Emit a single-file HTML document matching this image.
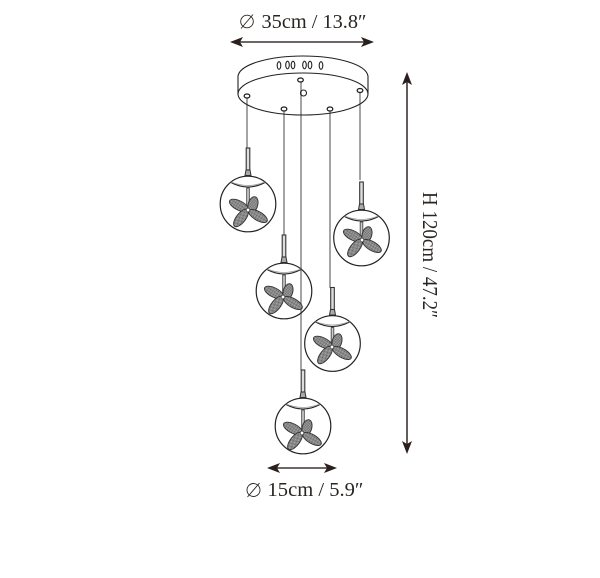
<!DOCTYPE html>
<html><head><meta charset="utf-8"><style>
html,body{margin:0;padding:0;background:#fff}
svg{display:block}
text{font-family:"Liberation Serif",serif;fill:#2a2522}
</style></head><body>
<svg width="600" height="578" viewBox="0 0 600 578" xmlns="http://www.w3.org/2000/svg">
<defs>
<pattern id="h" width="2" height="2" patternUnits="userSpaceOnUse"><rect width="2" height="2" fill="#b0b0b0"/><rect width="1" height="1" fill="#606060"/><rect x="1" y="1" width="1" height="1" fill="#606060"/></pattern>
<g id="blades" stroke="#333" stroke-width=".9" fill="url(#h)">
<ellipse cx="-9" cy="-4.5" rx="10.500" ry="4.600" transform="rotate(27 -9 -4.500)"/>
<ellipse cx="5" cy="-5.500" rx="8" ry="4.800" transform="rotate(-75 5 -5.500)"/>
<ellipse cx="-7" cy="8" rx="10.500" ry="4.600" transform="rotate(-52 -7 8)"/>
<ellipse cx="10" cy="6" rx="10.500" ry="4.400" transform="rotate(30 10 6)"/>
<circle r="1.800" fill="#fff" stroke-width=".7" cx="0" cy="0"/>
</g>
<g id="lamp">
<rect x="-1.800" y="-56" width="3.600" height="22" fill="#ddd" stroke="#333" stroke-width="1.100"/>
<path d="M-2-34H2L3-28.500H-3Z" fill="#aaa" stroke="#333" stroke-width="1"/>
<circle cx="0" cy="0" r="27.800" fill="none" stroke="#222" stroke-width="1.200"/>
<path d="M-17-21.500Q0-12.500 17-21.500" fill="none" stroke="#222" stroke-width="1.100"/>
<path d="M-17-22Q0-15 17-22" fill="none" stroke="#999" stroke-width=".8"/>
<rect x="-1.300" y="-16" width="2.600" height="22" fill="#ccc" stroke="#444" stroke-width=".9"/>
</g>
</defs>

<!-- wires -->
<g stroke="#7e7e7e" stroke-width="1.400" fill="none">
<path d="M247 96V148M284 109V235M301 82V370M330 109V288M360 91V180"/>
</g>

<!-- canopy -->
<g fill="none" stroke="#222" stroke-width="1.100">
<path d="M238 94V76C240 64 270 56 303 56C336 56 366 64 368 76V94"/>
<ellipse cx="303" cy="94" rx="65" ry="21"/>
<circle cx="303.500" cy="93" r="3"/>
</g>
<g fill="#fff" stroke="#222" stroke-width="1.100">
<ellipse cx="279" cy="65.500" rx="1.800" ry="3.800"/>
<ellipse cx="287.500" cy="65" rx="1.800" ry="3.800"/>
<ellipse cx="293" cy="65" rx="1.800" ry="3.800"/>
<ellipse cx="304.500" cy="65" rx="1.800" ry="3.800"/>
<ellipse cx="310" cy="65" rx="1.800" ry="3.800"/>
<ellipse cx="321" cy="65.500" rx="1.800" ry="3.800"/>
</g>
<g fill="#fff" stroke="#222" stroke-width="1.300">
<ellipse cx="300.500" cy="80" rx="2.800" ry="2"/>
<ellipse cx="247" cy="96" rx="2.800" ry="2"/>
<ellipse cx="284" cy="109" rx="2.800" ry="2"/>
<ellipse cx="330" cy="109" rx="2.800" ry="2"/>
<ellipse cx="360" cy="90.500" rx="2.800" ry="2"/>
</g>

<!-- pendants -->
<use href="#lamp" transform="translate(248 204)"/>
<use href="#blades" transform="translate(248 210)"/>
<use href="#lamp" transform="translate(361.500 238)"/>
<use href="#blades" transform="translate(362 240)"/>
<use href="#lamp" transform="translate(284 291)"/>
<use href="#blades" transform="translate(283 297)"/>
<use href="#lamp" transform="translate(332.500 343.500)"/>
<use href="#blades" transform="translate(332 347)"/>
<use href="#lamp" transform="translate(303 426)"/>
<use href="#blades" transform="translate(302 433)"/>

<!-- dimension arrows -->
<g stroke="#3d3532" stroke-width="1.600" fill="none">
<path d="M236 42H368M273 468H331M407 78V448"/>
</g>
<g fill="#2a1f1c">
<path d="M230 42L243 37L240 42L243 47Z"/>
<path d="M374 42L361 37L364 42L361 47Z"/>
<path d="M267 468L280 463L277 468L280 473Z"/>
<path d="M337 468L324 463L327 468L324 473Z"/>
<path d="M407 72L402 85L407 82L412 85Z"/>
<path d="M407 454L402 441L407 444L412 441Z"/>
</g>

<!-- labels -->
<g fill="none" stroke="#2a2522" stroke-width=".9">
<circle cx="247" cy="21.500" r="6.300"/><path d="M241 28.500L253 14.500"/>
<circle cx="253.500" cy="490" r="6.500"/><path d="M247.500 497L259.500 483"/>
</g>
<text x="261.500" y="28" font-size="20" textLength="105" lengthAdjust="spacingAndGlyphs">35cm / 13.8″</text>
<text x="267.500" y="496" font-size="20" textLength="96" lengthAdjust="spacingAndGlyphs">15cm / 5.9″</text>
<text transform="translate(423 192) rotate(90)" x="0" y="0" font-size="21" textLength="126" lengthAdjust="spacingAndGlyphs">H 120cm / 47.2″</text>
</svg>
</body></html>
